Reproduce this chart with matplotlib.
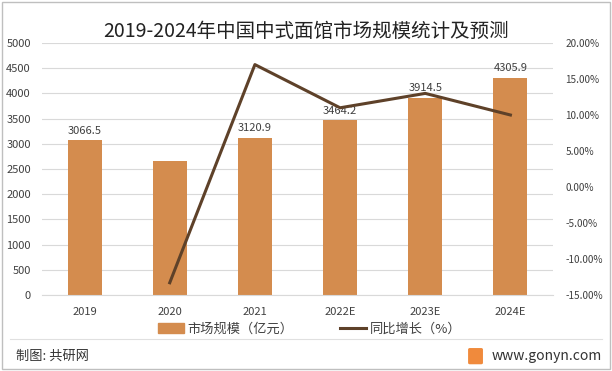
import matplotlib.pyplot as plt
from matplotlib.patches import Rectangle, FancyBboxPatch
from matplotlib.lines import Line2D

plt.rcParams['font.family'] = ['Noto Sans CJK SC', 'DejaVu Sans']

years = ['2019', '2020', '2021', '2022E', '2023E', '2024E']
market_size = [3066.5, 2660.0, 3120.9, 3464.2, 3914.5, 4305.9]
bar_labels = ['3066.5', '', '3120.9', '3464.2', '3914.5', '4305.9']
growth = [None, -13.3, 17.0, 11.0, 13.0, 10.0]

bar_color = '#D48C4E'
line_color = '#5E4129'
text_color = '#404040'

fig = plt.figure(figsize=(6.12, 3.71), dpi=100)
ax = fig.add_axes([0.0686, 0.2049, 0.8350, 0.6792])

x = list(range(len(years)))
ax.bar(x, market_size, width=0.40, color=bar_color, zorder=2)
for i, v in enumerate(market_size):
    if bar_labels[i]:
        ax.text(i, v + 90, bar_labels[i], ha='center', va='bottom',
                fontsize=8, color=text_color, zorder=4)

ax.set_ylim(0, 5000)
ax.set_yticks(range(0, 5001, 500))
ax.set_xlim(-0.5, len(years) - 0.5)
ax.set_xticks(x)
ax.set_xticklabels(years)
ax.grid(axis='y', color='#D9D9D9', linewidth=0.8, zorder=0)
for s in ['top', 'right', 'left']:
    ax.spines[s].set_visible(False)
ax.spines['bottom'].set_color('#D9D9D9')
ax.tick_params(axis='both', length=0, labelsize=8, labelcolor=text_color)
ax.tick_params(axis='y', pad=8)
ax.tick_params(axis='x', pad=9)

ax2 = ax.twinx()
gx = [i for i, g in enumerate(growth) if g is not None]
gy = [g for g in growth if g is not None]
ax2.plot(gx, gy, color=line_color, linewidth=2.2, zorder=3)
ax2.set_ylim(-15, 20)
ax2.set_yticks(range(-15, 21, 5))
ax2.set_yticklabels([f'{v:.2f}%' for v in range(-15, 21, 5)])
for s in ax2.spines.values():
    s.set_visible(False)
ax2.tick_params(axis='y', length=0, labelsize=7.2, labelcolor=text_color, pad=9)

fig.text(0.5, 0.915, '2019-2024年中国中式面馆市场规模统计及预测', ha='center',
         va='center', fontsize=14, color='#222222')

handles = [Rectangle((0, 0), 1, 1, color=bar_color),
           Line2D([0], [0], color=line_color, linewidth=2.2)]
fig.legend(handles, ['市场规模（亿元）', '同比增长（%）'], loc='center',
           bbox_to_anchor=(0.506, 0.113), ncol=2, frameon=False, fontsize=9.5,
           handlelength=2.0, handletextpad=0.25, columnspacing=3.5,
           labelcolor=text_color)

fig.add_artist(Line2D([0.016, 0.984], [0.086, 0.086], color='#E0E0E0',
                      linewidth=0.8, transform=fig.transFigure))
fig.text(0.026, 0.04, '制图: 共研网', ha='left', va='center', fontsize=9.5,
         color='#333333')
fig.text(0.984, 0.04, 'www.gonyn.com', ha='right', va='center', fontsize=10,
         color='#333333')
fig.add_artist(FancyBboxPatch((0.768, 0.022), 0.018, 0.036,
                              boxstyle='round,pad=0.002', color='#F08A3C',
                              transform=fig.transFigure))

fig.add_artist(Rectangle((0.003, 0.005), 0.994, 0.99, fill=False,
                         edgecolor='#BFBFBF', linewidth=1,
                         transform=fig.transFigure))

fig.savefig('out.png', dpi=100)
